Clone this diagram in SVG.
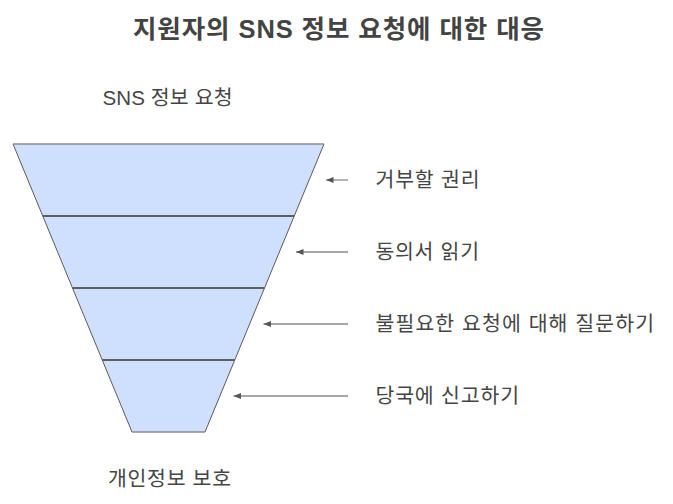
<svg xmlns="http://www.w3.org/2000/svg" width="673" height="504" viewBox="0 0 673 504">
<defs>
<style>
.fill{fill:#cfe0ff;stroke:none}
.side{stroke:#5a5a5a;stroke-width:1;fill:none}
.cap{stroke:#8a8a8a;stroke-width:1.5;fill:none}
.div{stroke:#5f5f5f;stroke-width:2;fill:none}
.conn{stroke:#8a8a8a;stroke-width:1.3;fill:none;marker-end:url(#ah)}
.lbl{font-family:"Liberation Sans","Noto Sans CJK KR",sans-serif;font-size:20.5px;fill:#454545}
.ttl{font-family:"Liberation Sans","Noto Sans CJK KR",sans-serif;font-size:25.5px;font-weight:bold;fill:#434343}
</style>
<marker id="ah" viewBox="0 0 10 8" refX="10" refY="4" markerWidth="8" markerHeight="6" markerUnits="userSpaceOnUse" orient="auto">
<path d="M0,0 L10,4 L0,8 Z" fill="#555"/>
</marker>
</defs>
<rect width="673" height="504" fill="#ffffff"/>
<text class="ttl" x="133" y="37.5" textLength="411" lengthAdjust="spacing">지원자의 SNS 정보 요청에 대한 대응</text>
<g id="top-label"><text class="lbl" x="102.5" y="104.5" textLength="130" lengthAdjust="spacing">SNS 정보 요청</text></g>
<g id="layer1"><polygon class="fill" points="13,144 324,144 294.25,216 42.75,216"/></g>
<g id="layer2"><polygon class="fill" points="42.75,216 294.25,216 264.5,288 72.5,288"/></g>
<g id="layer3"><polygon class="fill" points="72.5,288 264.5,288 234.75,360 102.25,360"/></g>
<g id="layer4"><polygon class="fill" points="102.25,360 234.75,360 205,432 132,432"/></g>
<g id="funnel-outline">
<line class="side" x1="13" y1="144" x2="132" y2="432"/>
<line class="side" x1="324" y1="144" x2="205" y2="432"/>
<line class="cap" x1="13" y1="144" x2="324" y2="144"/>
<line class="cap" x1="132" y1="432" x2="205" y2="432"/>
<line class="div" x1="42.75" y1="216" x2="294.25" y2="216"/>
<line class="div" x1="72.5" y1="288" x2="264.5" y2="288"/>
<line class="div" x1="102.25" y1="360" x2="234.75" y2="360"/>
</g>
<g id="bottom-label"><text class="lbl" x="108" y="485.5" textLength="123" lengthAdjust="spacing">개인정보 보호</text></g>
<g id="connectors">
<line class="conn" x1="348" y1="180" x2="326" y2="180"/>
<line class="conn" x1="348" y1="252" x2="296" y2="252"/>
<line class="conn" x1="348" y1="324" x2="263.5" y2="324"/>
<line class="conn" x1="348" y1="396" x2="233.5" y2="396"/>
</g>
<g id="label1"><text class="lbl" x="375.5" y="187" textLength="104" lengthAdjust="spacing">거부할 권리</text></g>
<g id="label2"><text class="lbl" x="375.5" y="259" textLength="103.5" lengthAdjust="spacing">동의서 읽기</text></g>
<g id="label3"><text class="lbl" x="375.5" y="331" textLength="278.5" lengthAdjust="spacing">불필요한 요청에 대해 질문하기</text></g>
<g id="label4"><text class="lbl" x="375.5" y="403" textLength="143.5" lengthAdjust="spacing">당국에 신고하기</text></g>
</svg>
